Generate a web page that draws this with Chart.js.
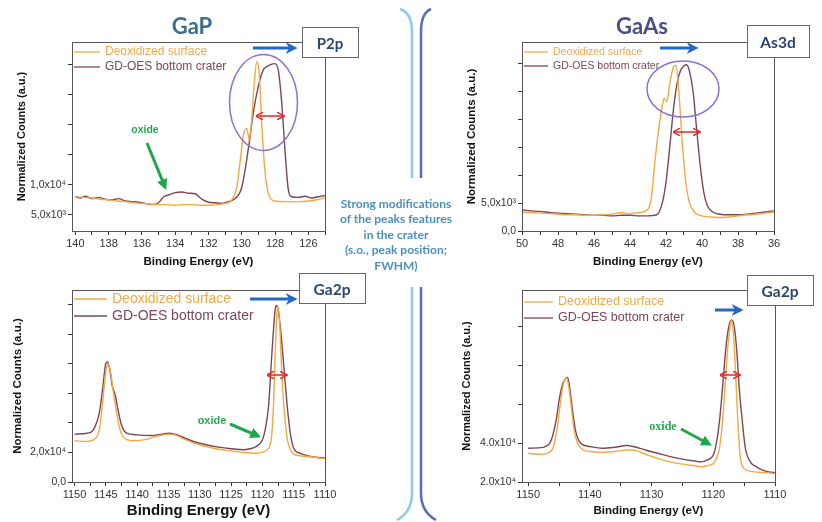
<!DOCTYPE html>
<html>
<head>
<meta charset="utf-8">
<script src="https://cdn.jsdelivr.net/npm/chart.js@4.4.0/dist/chart.umd.min.js"></script>
<style>
  html, body { margin: 0; padding: 0; background: #fff; }
  #page { position: relative; width: 822px; height: 522px; overflow: hidden; }
  #page canvas { position: absolute; }
  #c1 { left: 0; top: 30px; }
  #c2 { left: 450px; top: 30px; }
  #c3 { left: 0; top: 280px; }
  #c4 { left: 450px; top: 280px; }
  #overlay { position: absolute; left: 0; top: 0; }
</style>
</head>
<body>
<div id="page">
  <canvas id="c1" width="340" height="250"></canvas>
  <canvas id="c2" width="340" height="250"></canvas>
  <canvas id="c3" width="340" height="242"></canvas>
  <canvas id="c4" width="340" height="242"></canvas>

  <svg id="overlay" width="822" height="522" xmlns="http://www.w3.org/2000/svg">
    <defs>
      <marker id="headBlue" viewBox="0 0 10 10" refX="7" refY="5" markerWidth="4" markerHeight="4" orient="auto">
        <path d="M0,0 L10,5 L0,10 L3,5 z" fill="#2368c2"/>
      </marker>
      <marker id="headGreen" viewBox="0 0 10 10" refX="7" refY="5" markerWidth="3.6" markerHeight="3.6" orient="auto">
        <path d="M0,0 L10,5 L0,10 z" fill="#1fa64a"/>
      </marker>
      <marker id="headRed" viewBox="0 0 10 10" refX="8" refY="5" markerWidth="5" markerHeight="5" orient="auto-start-reverse">
        <path d="M0,0 L10,5 L0,10" fill="none" stroke="#e3262b" stroke-width="2"/>
      </marker>
    </defs>

    <!-- titles -->
    <text x="192" y="25" text-anchor="middle" dominant-baseline="central" font-family="Lato" font-weight="bold" font-size="22" fill="#3d6e8e">GaP</text>
    <text x="642" y="25" text-anchor="middle" dominant-baseline="central" font-family="Lato" font-weight="bold" font-size="22" fill="#4a4f8b">GaAs</text>

    <!-- separators -->
    <path d="M400,9 Q412,13 412,32 L412,178" fill="none" stroke="#8ccbe9" stroke-width="2.5"/>
    <path d="M431,9 Q421,13 421,32 L421,178" fill="none" stroke="#5b6cb7" stroke-width="2.5"/>
    <path d="M412,287 L412,493 Q412,512 397,520" fill="none" stroke="#8ccbe9" stroke-width="2.5"/>
    <path d="M421,287 L421,493 Q421,512 436,520" fill="none" stroke="#5b6cb7" stroke-width="2.5"/>

    <!-- centre note -->
    <g font-family="Lato" font-weight="bold" font-size="12" fill="#4b8ec0" text-anchor="middle" dominant-baseline="central">
      <text x="396" y="203">Strong modifications</text>
      <text x="396" y="218.5">of the peaks features</text>
      <text x="396" y="234">in the crater</text>
      <text x="396" y="249.5">(s.o., peak position;</text>
      <text x="396" y="265">FWHM)</text>
    </g>

    <!-- ellipses -->
    <ellipse cx="263.5" cy="102.5" rx="34" ry="48" fill="none" stroke="#8a70d2" stroke-width="1.5"/>
    <ellipse cx="683" cy="89" rx="36" ry="28" fill="none" stroke="#8a70d2" stroke-width="1.5"/>

    <!-- FWHM arrows -->
    <line x1="257" y1="116" x2="283" y2="116" stroke="#e3262b" stroke-width="1.5" marker-start="url(#headRed)" marker-end="url(#headRed)"/>
    <line x1="674" y1="132" x2="699" y2="132" stroke="#e3262b" stroke-width="1.5" marker-start="url(#headRed)" marker-end="url(#headRed)"/>
    <line x1="268" y1="375" x2="286" y2="375" stroke="#e3262b" stroke-width="1.5" marker-start="url(#headRed)" marker-end="url(#headRed)"/>
    <line x1="721" y1="375" x2="739" y2="375" stroke="#e3262b" stroke-width="1.5" marker-start="url(#headRed)" marker-end="url(#headRed)"/>

    <!-- shift arrows -->
    <line x1="253" y1="48" x2="294" y2="48" stroke="#2368c2" stroke-width="3" marker-end="url(#headBlue)"/>
    <line x1="660" y1="48" x2="695" y2="48" stroke="#2368c2" stroke-width="3" marker-end="url(#headBlue)"/>
    <line x1="250" y1="299" x2="294" y2="299" stroke="#2368c2" stroke-width="3" marker-end="url(#headBlue)"/>
    <line x1="715" y1="310" x2="740" y2="310" stroke="#2368c2" stroke-width="3" marker-end="url(#headBlue)"/>

    <!-- peak boxes -->
    <rect x="302.5" y="27.5" width="56" height="30" fill="#fff" stroke="#666"/>
    <text x="330" y="43" text-anchor="middle" dominant-baseline="central" font-family="Lato" font-weight="bold" font-size="15" fill="#2b456e">P2p</text>
    <rect x="747.5" y="25.5" width="62" height="32" fill="#fff" stroke="#666"/>
    <text x="778" y="42" text-anchor="middle" dominant-baseline="central" font-family="Lato" font-weight="bold" font-size="15.5" fill="#2b456e">As3d</text>
    <rect x="299.5" y="273.5" width="66" height="30" fill="#fff" stroke="#666"/>
    <text x="332" y="289" text-anchor="middle" dominant-baseline="central" font-family="Lato" font-weight="bold" font-size="15.5" fill="#2b456e">Ga2p</text>
    <rect x="747.5" y="275.5" width="66" height="30" fill="#fff" stroke="#666"/>
    <text x="780" y="291" text-anchor="middle" dominant-baseline="central" font-family="Lato" font-weight="bold" font-size="15.5" fill="#2b456e">Ga2p</text>

    <!-- oxide labels -->
    <text x="145" y="129" text-anchor="middle" dominant-baseline="central" font-family="Liberation Sans" font-weight="bold" font-size="10.5" fill="#2aa653">oxide</text>
    <line x1="147" y1="143" x2="165" y2="187" stroke="#1fa64a" stroke-width="3" marker-end="url(#headGreen)"/>
    <text x="212" y="420" text-anchor="middle" dominant-baseline="central" font-family="Liberation Sans" font-weight="bold" font-size="11" fill="#2aa653">oxide</text>
    <line x1="230" y1="424" x2="258" y2="436" stroke="#1fa64a" stroke-width="3" marker-end="url(#headGreen)"/>
    <text x="663" y="426" text-anchor="middle" dominant-baseline="central" font-family="Liberation Serif" font-weight="bold" font-size="12" fill="#2aa653">oxide</text>
    <line x1="681" y1="429" x2="709" y2="444" stroke="#1fa64a" stroke-width="3" marker-end="url(#headGreen)"/>
  </svg>
</div>

<script>
// ---- GaP, P2p ----
const gapP2pDeoxE = [140, 139.5, 139, 138.5, 138, 137.5, 137, 136.5, 136, 135.5, 135, 134.5, 134, 133.5, 133, 132.5, 132, 131.5, 131, 130.6, 130.3, 130.1, 129.9, 129.7, 129.55, 129.4, 129.25, 129.1, 128.95, 128.8, 128.6, 128.4, 128.2, 128, 127.5, 127, 126.5, 126, 125.5, 125];
const gapP2pDeoxY = [8000, 7900, 7800, 7600, 7500, 7300, 7200, 7000, 6900, 6800, 6700, 6700, 6600, 6700, 6700, 6600, 6600, 6700, 6900, 7500, 9600, 13900, 18300, 19400, 17500, 21000, 27000, 30500, 28500, 20000, 12000, 8500, 7500, 7300, 7200, 7200, 7200, 7300, 7500, 7800];
const gapP2pCraterE = [140, 139.7, 139.4, 139, 138.6, 138.2, 137.8, 137.4, 137, 136.6, 136.2, 135.8, 135.4, 135, 134.7, 134.4, 134, 133.6, 133.2, 132.8, 132.4, 132, 131.6, 131.2, 130.8, 130.4, 130, 129.6, 129.3, 129.0, 128.7, 128.5, 128.3, 128.0, 127.8, 127.6, 127.4, 127.2, 127.0, 126.6, 126.2, 125.8, 125.4, 125];
const gapP2pCraterY = [8000, 7800, 8100, 7700, 7900, 7600, 7500, 7700, 7300, 7200, 7100, 6900, 6700, 7000, 8000, 8300, 8700, 8800, 8600, 8500, 7600, 7100, 7000, 6900, 7200, 7700, 9600, 16100, 22100, 26500, 29200, 29700, 30000, 30200, 29000, 23700, 15600, 9100, 8000, 7900, 8100, 7800, 8000, 8200];

// ---- GaAs, As3d ----
const gaasAs3dDeoxE = [50, 49.5, 49, 48.5, 48, 47.5, 47, 46.5, 46, 45.5, 45, 44.5, 44, 43.5, 43, 42.8, 42.6, 42.4, 42.2, 42.1, 41.95, 41.8, 41.6, 41.45, 41.3, 41.1, 40.9, 40.7, 40.4, 40, 39.5, 39, 38.5, 38, 37.5, 37, 36.5, 36];
const gaasAs3dDeoxY = [3400, 3300, 3200, 3100, 3000, 2900, 2900, 2800, 2800, 2900, 3000, 3300, 3100, 3300, 3900, 6300, 12900, 18300, 22500, 23700, 23100, 26100, 29200, 29600, 25500, 15900, 8700, 5100, 3300, 2700, 2500, 2400, 2500, 2700, 2900, 3000, 3200, 3400];
const gaasAs3dCraterE = [50, 49.5, 49, 48.5, 48, 47.5, 47, 46.5, 46, 45.5, 45, 44.5, 44, 43.5, 43, 42.5, 42.2, 42.0, 41.8, 41.6, 41.4, 41.2, 41.0, 40.85, 40.7, 40.5, 40.3, 40.1, 39.9, 39.7, 39.4, 39, 38.5, 38, 37.5, 37, 36.5, 36];
const gaasAs3dCraterY = [3800, 3600, 3500, 3300, 3200, 3100, 3000, 2900, 2800, 2800, 2700, 2800, 2800, 2700, 2700, 2900, 5100, 8700, 14700, 21300, 26100, 28600, 29500, 29700, 28600, 25000, 18300, 11700, 6900, 4500, 3400, 3000, 2900, 2900, 3000, 3200, 3400, 3600];

// ---- GaP, Ga2p ----
const gapGa2pDeoxE = [1150, 1148, 1147, 1146, 1145.5, 1145, 1144.6, 1144.2, 1143.8, 1143.3, 1142.8, 1142.3, 1141.5, 1140.5, 1139, 1137, 1135, 1134, 1133, 1131, 1129, 1127, 1125, 1123, 1121, 1120, 1119, 1118.5, 1118.2, 1118, 1117.7, 1117.5, 1117.2, 1117, 1116.7, 1116.3, 1116, 1115.5, 1115, 1114, 1112, 1110];
const gapGa2pDeoxY = [27900, 27400, 28500, 36400, 54400, 74600, 80200, 73500, 61100, 47600, 36400, 30800, 28500, 27900, 28500, 30800, 32400, 31900, 30100, 26300, 24000, 22200, 21100, 20000, 19500, 20200, 22900, 31900, 54400, 81300, 112800, 119100, 103800, 83600, 58900, 38600, 28500, 21800, 18900, 17800, 16900, 15700];
const gapGa2pCraterE = [1150, 1148, 1147, 1146, 1145.5, 1145, 1144.7, 1144.3, 1144, 1143.5, 1143, 1142.5, 1142, 1141, 1140, 1138, 1136, 1135, 1134, 1133, 1131, 1129, 1127, 1125, 1123, 1122, 1121, 1120, 1119.5, 1119, 1118.5, 1118, 1117.8, 1117.5, 1117, 1116.5, 1116, 1115.5, 1115, 1114, 1113, 1112, 1110];
const gapGa2pCraterY = [32400, 33000, 35300, 47600, 63400, 80200, 81300, 74600, 65600, 58900, 47600, 38600, 34200, 32400, 31900, 31500, 32400, 33000, 32400, 30800, 27400, 25200, 23600, 22500, 21800, 22500, 24000, 28500, 36400, 52100, 85800, 115000, 119500, 117300, 99300, 74600, 49900, 31900, 22900, 19500, 18000, 17100, 16200];

// ---- GaAs, Ga2p ----
const gaasGa2pDeoxE = [1150, 1148, 1147, 1146, 1145.3, 1144.8, 1144.3, 1143.8, 1143.4, 1143, 1142.6, 1142, 1141, 1140, 1138, 1136, 1134, 1133, 1131, 1129, 1127, 1125, 1123, 1122, 1121, 1120, 1119.5, 1119, 1118.5, 1118, 1117.6, 1117.2, 1117, 1116.7, 1116.4, 1116.1, 1115.8, 1115.5, 1115, 1114, 1112, 1110];
const gaasGa2pDeoxY = [34800, 34300, 34800, 37400, 47800, 60000, 70500, 73600, 68700, 58300, 47800, 40000, 36500, 35700, 35300, 35700, 36500, 36500, 34300, 32200, 30400, 29200, 28400, 27800, 28400, 29600, 32200, 37400, 51300, 73900, 91300, 101800, 103200, 94800, 77400, 56500, 39100, 30400, 27000, 25600, 24900, 24400];
const gaasGa2pCraterE = [1150, 1148, 1146.5, 1145.5, 1145, 1144.5, 1144, 1143.6, 1143.2, 1142.8, 1142.3, 1141.5, 1140, 1138, 1136, 1134, 1133, 1131, 1129, 1127, 1125, 1123, 1122, 1121, 1120, 1119.5, 1119, 1118.5, 1118, 1117.5, 1117, 1116.6, 1116.2, 1115.8, 1115.3, 1114.8, 1114, 1113, 1112, 1111, 1110];
const gaasGa2pCraterY = [37400, 37700, 40000, 51300, 61800, 69600, 73100, 73900, 67000, 56500, 46100, 40000, 38300, 37400, 37900, 38800, 38300, 36500, 34800, 33100, 31800, 30800, 30400, 31300, 33900, 40000, 51300, 68700, 87900, 100000, 103500, 100000, 87900, 68700, 51300, 37400, 30400, 27800, 26100, 25200, 24900];

// ---- axis ticks ----
const p2pXTicks = [140, 139, 138, 137, 136, 135, 134, 133, 132, 131, 130, 129, 128, 127, 126, 125];
const p2pXLabels = [140, 138, 136, 134, 132, 130, 128, 126];
const p2pYTicks = [5000, 10000, 15000, 20000, 25000, 30000];
const p2pYLabels = { 5000: '5,0x10³', 10000: '1,0x10⁴' };

const as3dXTicks = [50, 49, 48, 47, 46, 45, 44, 43, 42, 41, 40, 39, 38, 37, 36];
const as3dXLabels = [50, 48, 46, 44, 42, 40, 38, 36];
const as3dYTicks = [0, 5000, 10000, 15000, 20000, 25000, 30000];
const as3dYLabels = { 0: '0,0', 5000: '5,0x10³' };

const gapGa2pXTicks = [1150, 1147.5, 1145, 1142.5, 1140, 1137.5, 1135, 1132.5, 1130, 1127.5, 1125, 1122.5, 1120, 1117.5, 1115, 1112.5, 1110];
const gapGa2pXLabels = [1150, 1145, 1140, 1135, 1130, 1125, 1120, 1115, 1110];
const gapGa2pYTicks = [0, 20000, 40000, 60000, 80000, 100000, 120000];
const gapGa2pYLabels = { 0: '0,0', 20000: '2,0x10⁴' };

const gaasGa2pXTicks = [1150, 1145, 1140, 1135, 1130, 1125, 1120, 1115, 1110];
const gaasGa2pXLabels = [1150, 1140, 1130, 1120, 1110];
const gaasGa2pYTicks = [20000, 40000, 60000, 80000, 100000];
const gaasGa2pYLabels = { 20000: '2.0x10⁴', 40000: '4.0x10⁴' };

const ORANGE = '#f5a843';
const CRATER = '#7c4656';

function pts(xs, ys) {
    return xs.map((x, i) => ({ x: x, y: ys[i] }));
}

// box round the plot, like Origin draws it
const framePlugin = {
    id: 'frame',
    afterDatasetsDraw(chart) {
        const a = chart.chartArea, ctx = chart.ctx;
        ctx.save();
        ctx.strokeStyle = '#555';
        ctx.lineWidth = 1;
        ctx.strokeRect(a.left + 0.5, a.top + 0.5, a.right - a.left, a.bottom - a.top);
        ctx.restore();
    }
};

// legend sitting in the upper-left corner of the plot
const insideLegend = {
    id: 'insideLegend',
    beforeDatasetsDraw(chart, args, opts) {
        const ctx = chart.ctx, a = chart.chartArea;
        ctx.save();
        chart.data.datasets.forEach((ds, i) => {
            const y = a.top + opts.top + i * opts.gap;
            ctx.strokeStyle = ds.borderColor;
            ctx.lineWidth = 1.3;
            ctx.beginPath();
            ctx.moveTo(a.left + 2, y);
            ctx.lineTo(a.left + opts.line, y);
            ctx.stroke();
            ctx.fillStyle = ds.borderColor;
            ctx.font = opts.size + 'px "Liberation Sans", Arial, sans-serif';
            ctx.textBaseline = 'middle';
            ctx.fillText(ds.label, a.left + opts.line + 5, y);
        });
        ctx.restore();
    }
};

function makeChart(id, o) {
    return new Chart(document.getElementById(id), {
        type: 'line',
        data: {
            datasets: [
                { label: 'Deoxidized surface', data: pts(o.deoxE, o.deoxY), borderColor: ORANGE },
                { label: 'GD-OES bottom crater', data: pts(o.craterE, o.craterY), borderColor: CRATER }
            ]
        },
        options: {
            responsive: false,
            animation: false,
            events: [],
            layout: { padding: o.pad },
            elements: {
                point: { radius: 0 },
                line: { borderWidth: 1.4, cubicInterpolationMode: 'monotone', fill: false }
            },
            plugins: {
                legend: { display: false },
                tooltip: { enabled: false },
                insideLegend: o.legend
            },
            scales: {
                x: {
                    type: 'linear',
                    reverse: true,
                    min: o.xMin,
                    max: o.xMax,
                    afterBuildTicks: s => { s.ticks = o.xTicks.map(v => ({ value: v })); },
                    afterFit: s => { s.height = o.xAxisH; },
                    ticks: {
                        autoSkip: false, maxRotation: 0, padding: 2, color: '#333',
                        font: { family: 'Liberation Sans', size: 11 },
                        callback: v => o.xLabels.includes(v) ? String(v) : ''
                    },
                    grid: { drawOnChartArea: false, tickLength: 4, color: '#333' },
                    border: { color: '#222', width: 1 },
                    title: {
                        display: true, text: 'Binding Energy (eV)', color: '#111',
                        font: { family: 'Liberation Sans', size: o.xTitleSize, weight: 'bold' },
                        padding: { top: 0, bottom: o.xTitlePad }
                    }
                },
                y: {
                    type: 'linear',
                    min: o.yMin,
                    max: o.yMax,
                    afterBuildTicks: s => { s.ticks = o.yTicks.map(v => ({ value: v })); },
                    afterFit: s => { s.width = 72; },
                    ticks: {
                        autoSkip: false, padding: 2, color: '#333',
                        font: { family: 'Liberation Sans', size: 10.5 },
                        callback: v => o.yLabels[v] || ''
                    },
                    grid: { drawOnChartArea: false, tickLength: 4, color: '#333' },
                    border: { color: '#222', width: 1 },
                    title: {
                        display: true, text: 'Normalized Counts (a.u.)', color: '#111',
                        font: { family: 'Liberation Sans', size: o.yTitleSize, weight: 'bold' },
                        padding: { top: o.yTitlePad, bottom: 0 }
                    }
                }
            }
        },
        plugins: [framePlugin, insideLegend]
    });
}

makeChart('c1', {
    deoxE: gapP2pDeoxE, deoxY: gapP2pDeoxY, craterE: gapP2pCraterE, craterY: gapP2pCraterY,
    xMin: 125, xMax: 140.2, xTicks: p2pXTicks, xLabels: p2pXLabels,
    yMin: 2300, yMax: 33800, yTicks: p2pYTicks, yLabels: p2pYLabels,
    pad: { top: 12, right: 15, bottom: 0, left: 0 }, xAxisH: 49,
    xTitleSize: 11.5, xTitlePad: 11, yTitleSize: 11, yTitlePad: 15,
    legend: { top: 10, gap: 15, line: 28, size: 12 }
});

makeChart('c2', {
    deoxE: gaasAs3dDeoxE, deoxY: gaasAs3dDeoxY, craterE: gaasAs3dCraterE, craterY: gaasAs3dCraterY,
    xMin: 36, xMax: 50, xTicks: as3dXTicks, xLabels: as3dXLabels,
    yMin: 0, yMax: 33750, yTicks: as3dYTicks, yLabels: as3dYLabels,
    pad: { top: 12, right: 16, bottom: 0, left: 0 }, xAxisH: 49,
    xTitleSize: 11.5, xTitlePad: 11, yTitleSize: 11.5, yTitlePad: 15,
    legend: { top: 10, gap: 14, line: 26, size: 10.5 }
});

makeChart('c3', {
    deoxE: gapGa2pDeoxE, deoxY: gapGa2pDeoxY, craterE: gapGa2pCraterE, craterY: gapGa2pCraterY,
    xMin: 1110, xMax: 1150.4, xTicks: gapGa2pXTicks, xLabels: gapGa2pXLabels,
    yMin: 0, yMax: 130000, yTicks: gapGa2pYTicks, yLabels: gapGa2pYLabels,
    pad: { top: 10, right: 15, bottom: 0, left: 0 }, xAxisH: 40,
    xTitleSize: 15, xTitlePad: 2, yTitleSize: 11.5, yTitlePad: 11,
    legend: { top: 9, gap: 17, line: 35, size: 14 }
});

makeChart('c4', {
    deoxE: gaasGa2pDeoxE, deoxY: gaasGa2pDeoxY, craterE: gaasGa2pCraterE, craterY: gaasGa2pCraterY,
    xMin: 1110, xMax: 1151, xTicks: gaasGa2pXTicks, xLabels: gaasGa2pXLabels,
    yMin: 20000, yMax: 119000, yTicks: gaasGa2pYTicks, yLabels: gaasGa2pYLabels,
    pad: { top: 10, right: 15, bottom: 0, left: 0 }, xAxisH: 40,
    xTitleSize: 11.5, xTitlePad: 4, yTitleSize: 11, yTitlePad: 10,
    legend: { top: 12, gap: 16, line: 31, size: 12.5 }
});
</script>
</body>
</html>
